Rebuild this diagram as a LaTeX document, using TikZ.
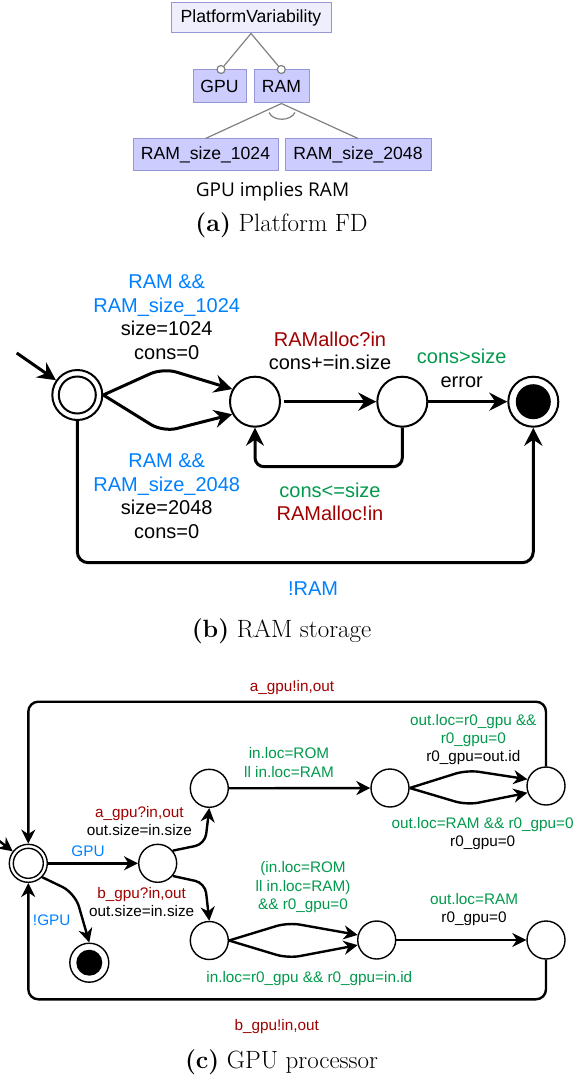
\documentclass[tikz,border=0pt]{standalone}
\usepackage{fontspec}
\newfontfamily\lsans{Liberation Sans}
\newfontfamily\osans{Open Sans}
\usetikzlibrary{arrows.meta}
\definecolor{cblue}{RGB}{0,128,255}
\definecolor{cred}{RGB}{160,0,0}
\definecolor{cgreen}{RGB}{0,153,76}
\definecolor{fdline}{RGB}{128,128,128}
\definecolor{fdborder}{RGB}{150,150,215}
\definecolor{fdfill}{RGB}{204,204,255}
\definecolor{fdrootfill}{RGB}{238,238,252}
\begin{document}
\begin{tikzpicture}[x=1pt,y=-1pt,
  fdbox/.style={draw=fdborder, fill=fdfill, line width=1pt, inner sep=0pt, font=\lsans\fontsize{17.6}{20}\selectfont},
  fdroot/.style={fdbox, fill=fdrootfill},
  fdconn/.style={draw=fdline, line width=1.2pt},
  optc/.style={circle, draw=fdline, fill=white, line width=1.2pt, minimum size=8pt, inner sep=0pt},
  bst/.style={circle, draw, line width=2pt, minimum size=50pt, inner sep=0pt},
  bedge/.style={line width=3pt, -{Stealth[length=18pt,width=18pt,inset=6pt]}},
  cst/.style={circle, draw, line width=1.4pt, minimum size=38pt, inner sep=0pt},
  cedge/.style={line width=2.4pt, -{Stealth[length=14pt,width=14pt,inset=4.5pt]}},
  lb/.style={font=\lsans\fontsize{20}{23.5}\selectfont, align=center, inner sep=0pt},
  lc/.style={font=\lsans\fontsize{15.3}{18.3}\selectfont, align=center, inner sep=0pt},
  capt/.style={font=\fontsize{25}{29}\selectfont, inner sep=0pt}
]
\useasboundingbox (0,0) rectangle (574,1078);

% ---------------- (a) Platform FD
\node[fdroot, minimum width=160pt, minimum height=30pt] (pv) at (251,18) {PlatformVariability};
\node[fdbox, minimum width=53pt, minimum height=33pt] (gpu) at (219.5,86.5) {GPU};
\node[fdbox, minimum width=55pt, minimum height=33pt] (ram) at (281.5,86.5) {RAM};
\node[fdbox, minimum width=145pt, minimum height=32pt] (r1) at (205.5,155) {RAM\_size\_1024};
\node[fdbox, minimum width=146pt, minimum height=32pt] (r2) at (358,155) {RAM\_size\_2048};
\node[optc] (og) at (221,69.5) {};
\node[optc] (or) at (281.3,69.5) {};
\draw[fdconn] (pv.south) -- (og);
\draw[fdconn] (pv.south) -- (or);
\draw[fdconn] (ram.south) -- (r1.north);
\draw[fdconn] (ram.south) -- (r2.north);
\draw[fdconn] (269,112.5) .. controls (273,121.5) and (290.5,121.5) .. (295,112.5);
\node[font=\osans\fontsize{19}{22}\selectfont, inner sep=0pt] (imp) at (272.5,191.7) {GPU implies RAM};
\node[capt] (capa) at (281.5,225.5) {\textbf{(a)} Platform FD};

% ---------------- (b) RAM storage
\node[bst] (s0) at (77.3,395) {};
\node[circle, draw, line width=2pt, minimum size=37pt, inner sep=0pt] (s0i) at (s0) {};
\node[bst] (s1) at (255,401.7) {};
\node[bst] (s2) at (402.3,401.7) {};
\node[bst] (s3) at (533.3,401.7) {};
\node[circle, fill, minimum size=35pt, inner sep=0pt] (s3i) at (s3) {};
\coordinate (binit) at (16.7,353);
\draw[bedge] (binit) -- (s0);
\draw[bedge, rounded corners=14pt] (s0.east) -- (163,368) -- (s1.151);
\draw[bedge, rounded corners=14pt] (s0.east) -- (163,432) -- (s1.209);
\draw[bedge, shorten <=3pt] (s1) -- (s2);
\draw[bedge] (s2) -- (s3);
\draw[bedge, rounded corners=9pt] (s2.south) -- (402.3,466.7) -| (s1.south);
\draw[bedge, rounded corners=11pt] (s0.south) -- (77.3,562.7) -| (s3.south);

\node[lb] (l1) at (166.7,317.2) {\textcolor{cblue}{RAM \&\&}\\\textcolor{cblue}{RAM\_size\_1024}\\size=1024\\cons=0};
\node[lb] (l2) at (166.7,496.2) {\textcolor{cblue}{RAM \&\&}\\\textcolor{cblue}{RAM\_size\_2048}\\size=2048\\cons=0};
\node[lb] (l3) at (330,351) {\textcolor{cred}{RAMalloc?in}\\cons+=in.size};
\node[lb] (l4) at (461.7,368.3) {\textcolor{cgreen}{cons>size}\\error};
\node[lb] (l5) at (330,501.7) {\textcolor{cgreen}{cons<=size}\\\textcolor{cred}{RAMalloc!in}};
\node[lb, text=cblue] (l6) at (313,588.3) {!RAM};
\node[capt] (capb) at (281.5,630.8) {\textbf{(b)} RAM storage};

% ---------------- (c) GPU processor
\node[cst] (c0) at (28.3,863.3) {};
\node[circle, draw, line width=1.4pt, minimum size=30pt, inner sep=0pt] (c0i) at (c0) {};
\node[cst] (c1) at (157.7,863.3) {};
\node[cst] (c2) at (209.3,788.3) {};
\node[cst] (c3) at (390,788) {};
\node[cst] (c4) at (546,786) {};
\node[cst, minimum size=39pt] (c5) at (89.3,962.7) {};
\node[circle, fill, minimum size=26pt, inner sep=0pt] (c5i) at (c5) {};
\node[cst] (c6) at (209.3,940.5) {};
\node[cst] (c7) at (376.7,940) {};
\node[cst] (c8) at (546,940) {};

\coordinate (cinit) at (-15,830);
\draw[cedge] (cinit) -- (c0);
\draw[cedge] (c0) -- (c1);
\draw[cedge, rounded corners=10pt] (c1.40) -- (205,844) -- (c2.south);
\draw[cedge, rounded corners=10pt] (c1.-40) -- (205,883) -- (c6.north);
\draw[cedge, rounded corners=14pt] (c0.-45) -- (75,893) -- (c5.north);
\draw[cedge] (c2) -- (c3);
\draw[cedge, rounded corners=12pt] (c3.east) -- (467,770) -- (c4.160);
\draw[cedge, rounded corners=12pt] (c3.east) -- (467,805) -- (c4.200);
\draw[cedge, rounded corners=12pt] (c6.east) -- (288,922.5) -- (c7.165);
\draw[cedge, rounded corners=12pt] (c6.east) -- (288,958.3) -- (c7.195);
\draw[cedge] (c7) -- (c8);
\draw[cedge, rounded corners=10pt] (c4.north) -- (546,701.7) -| (c0.north);
\draw[cedge, rounded corners=10pt] (c8.south) -- (546,999.3) -| (c0.south);

\node[lc, text=cred] (m1) at (292,687.5) {a\_gpu!in,out};
\node[lc] (m2) at (139.3,820.8) {\textcolor{cred}{a\_gpu?in,out}\\out.size=in.size};
\node[lc, text=cblue] (m3) at (88,851) {GPU};
\node[lc] (m4) at (141.7,902.2) {\textcolor{cred}{b\_gpu?in,out}\\out.size=in.size};
\node[lc, text=cblue] (m5) at (51.7,920.7) {!GPU};
\node[lc, text=cgreen] (m6) at (289,762.5) {in.loc=ROM\\ll in.loc=RAM};
\node[lc] (m7) at (473.3,739.5) {\textcolor{cgreen}{out.loc=r0\_gpu \&\&}\\\textcolor{cgreen}{r0\_gpu=0}\\r0\_gpu=out.id};
\node[lc] (m8) at (482.7,833.4) {\textcolor{cgreen}{out.loc=RAM \&\& r0\_gpu=0}\\r0\_gpu=0};
\node[lc, text=cgreen] (m9) at (303,887.2) {(in.loc=ROM\\ll in.loc=RAM)\\\&\& r0\_gpu=0};
\node[lc, text=cgreen] (m10) at (309.3,978.3) {in.loc=r0\_gpu \&\& r0\_gpu=in.id};
\node[lc] (m11) at (474,909.2) {\textcolor{cgreen}{out.loc=RAM}\\r0\_gpu=0};
\node[lc, text=cred] (m12) at (276.7,1026.7) {b\_gpu!in,out};
\node[capt] (capc) at (281.5,1062) {\textbf{(c)} GPU processor};
\end{tikzpicture}
\end{document}
